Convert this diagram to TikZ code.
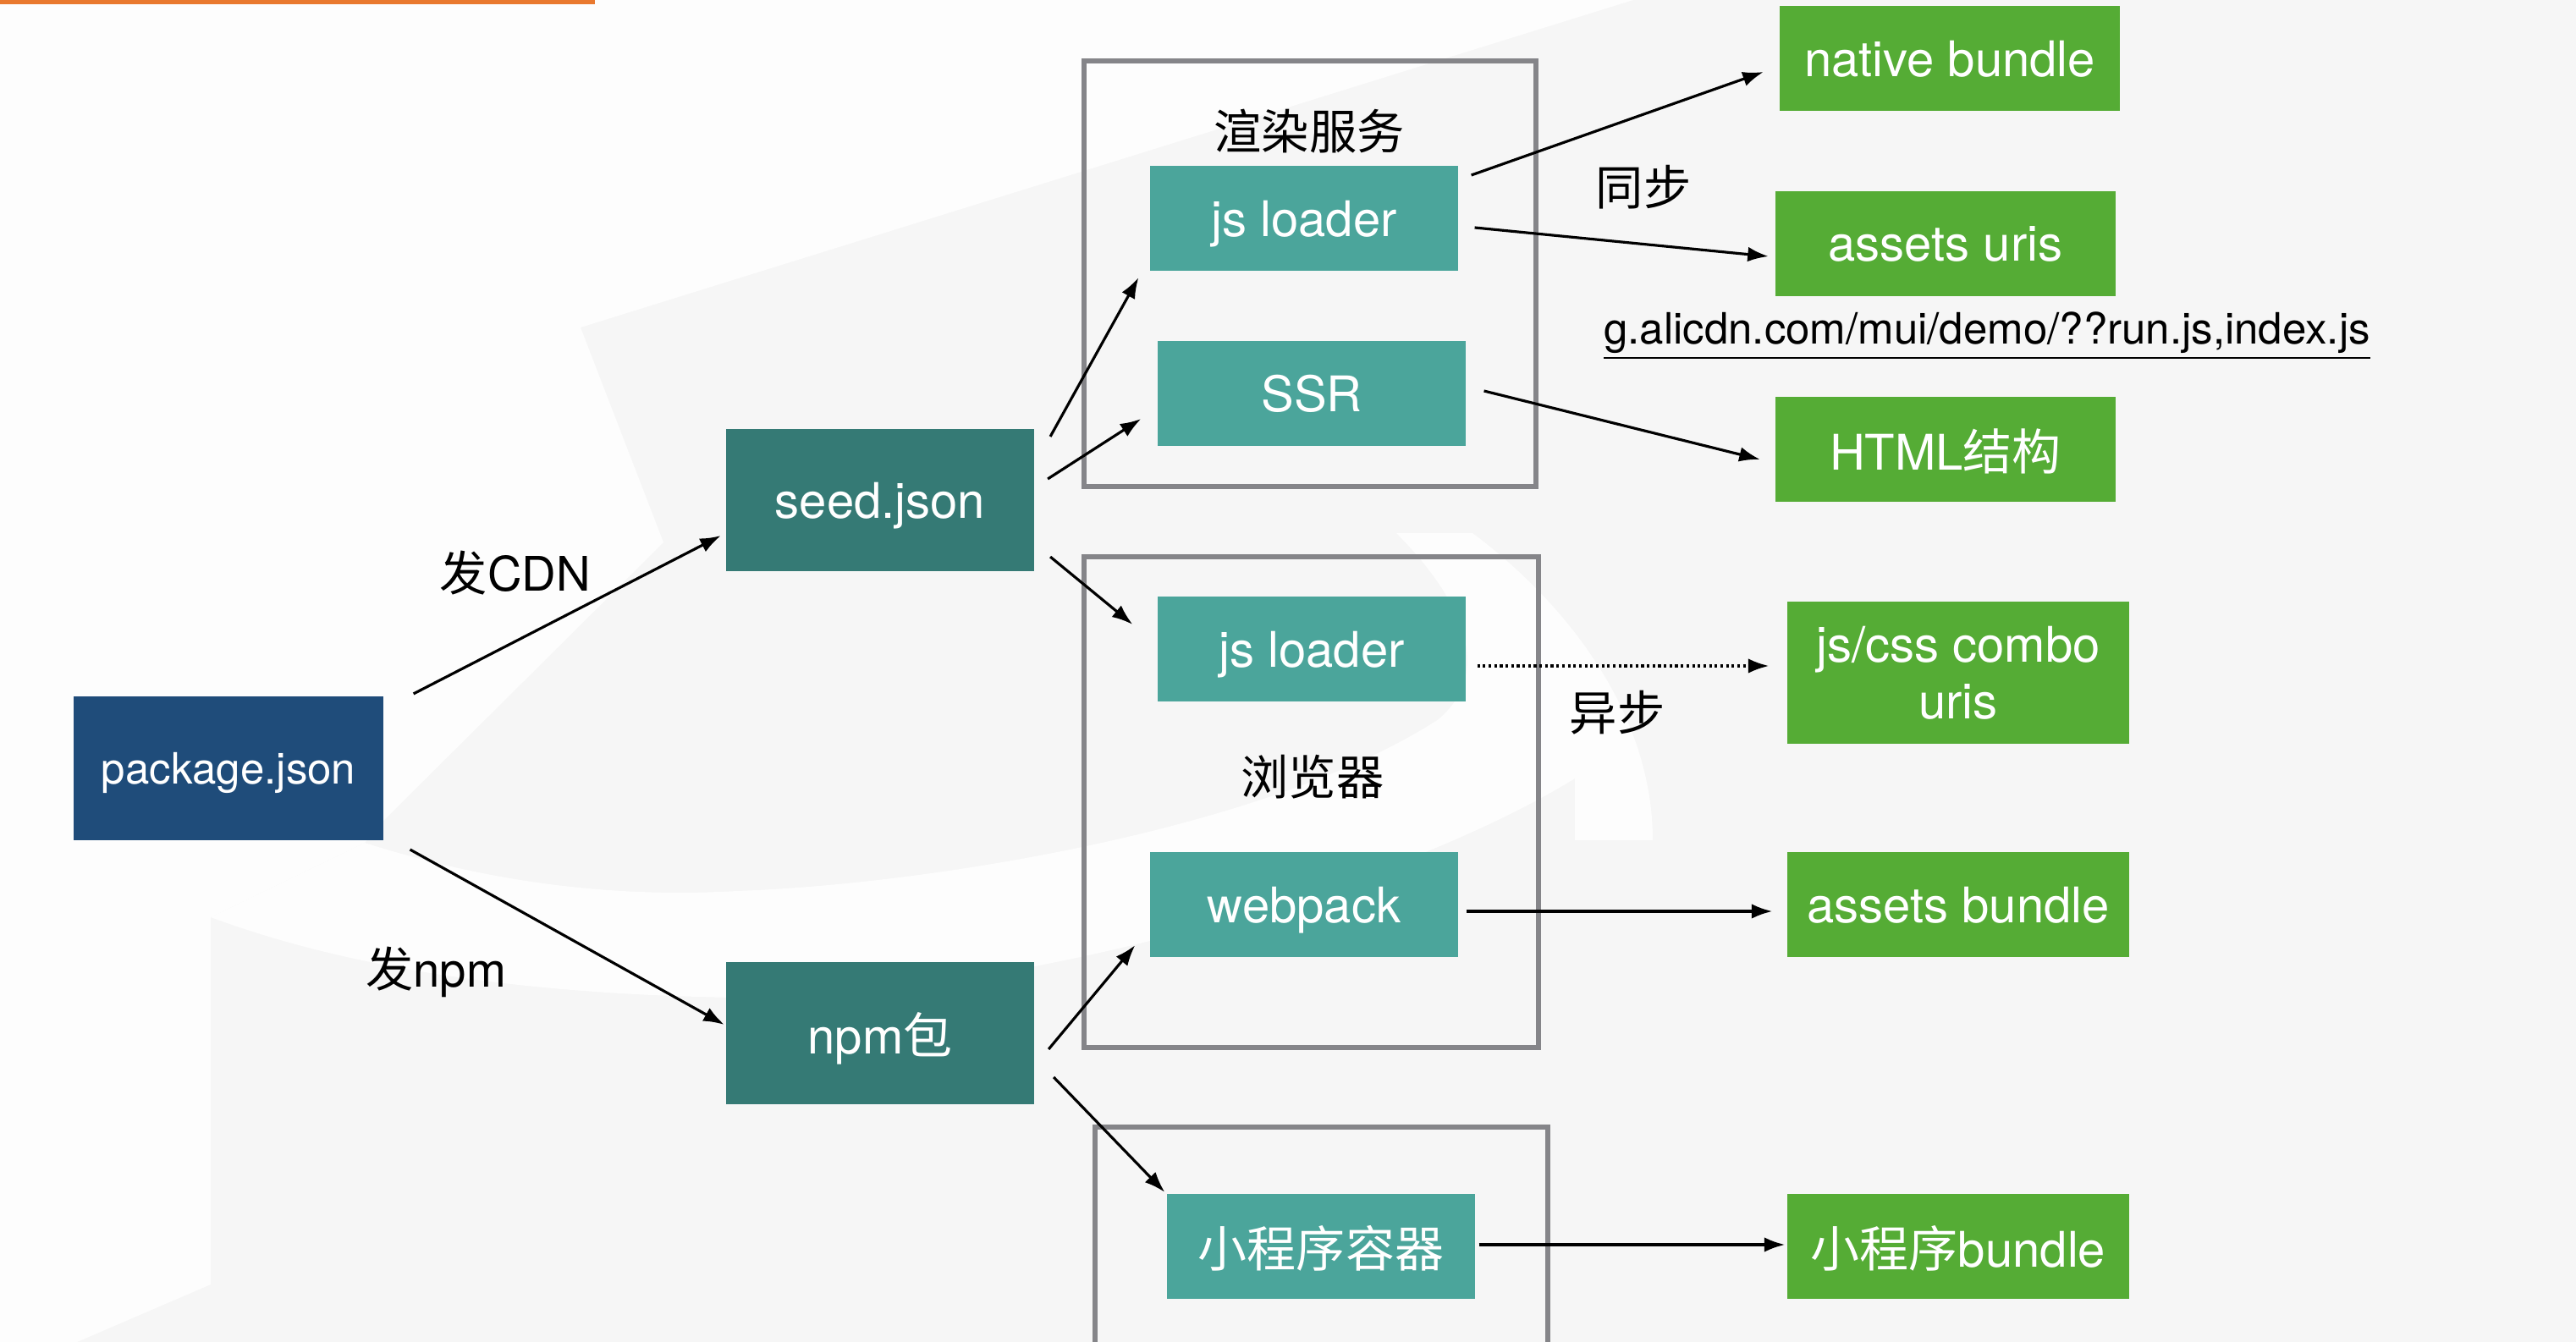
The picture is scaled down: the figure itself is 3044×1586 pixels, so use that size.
\documentclass[tikz,border=0pt]{standalone}
\usepackage{fontspec}
\setmainfont{TeX Gyre Heros}
\newfontfamily\cjk{Noto Sans CJK SC}
\definecolor{pkgblue}{HTML}{1F4C7A}
\definecolor{seedteal}{HTML}{357A75}
\definecolor{boxteal}{HTML}{4BA59B}
\definecolor{outgreen}{HTML}{55AC35}
\definecolor{framegrey}{HTML}{858589}
\definecolor{bggrey}{HTML}{F6F6F6}
\definecolor{bgwhite}{HTML}{FDFDFD}
\definecolor{topline}{HTML}{E9792F}
\usetikzlibrary{arrows.meta}
\usetikzlibrary{positioning}
\tikzstyle{base}=[inner sep=0pt, outer sep=0pt]
\tikzstyle{block}=[base, text=white, align=center, text depth=0pt, font=\fontsize{16.5}{19}\selectfont]
\tikzstyle{pkgbox}=[block, fill=pkgblue, minimum width=3.65cm, minimum height=1.70cm, font=\fontsize{14.5}{17}\selectfont]
\tikzstyle{srcbox}=[block, fill=seedteal, minimum width=3.64cm, minimum height=1.68cm]
\tikzstyle{envbox}=[block, fill=boxteal, minimum width=3.63cm, minimum height=1.24cm]
\tikzstyle{outbox}=[block, fill=outgreen, minimum width=4.02cm, minimum height=1.24cm]
\tikzstyle{lbl}=[base, text depth=0pt, font=\fontsize{16}{19}\selectfont]
\tikzstyle{frame}=[draw=framegrey, line width=1.6pt]
\tikzstyle{arr}=[-{Latex[length=7pt,width=5pt]}, line width=0.9pt]

\begin{document}
\begin{tikzpicture}[base, x=0.01cm, y=-0.01cm]
    \useasboundingbox (0,0) rectangle (3044,1586);
    % background and watermark
    \fill [bggrey] (0,0) rectangle (3044,1586);
    \fill [bgwhite] (0,0) -- (1930,0) -- (686,387) -- (784,641) -- (452,971) -- (431,996)
        -- (249,1084) -- (249,1518) -- (91,1586) -- (0,1586) -- cycle;
    \fill [bgwhite] (431,996) .. controls (600,1050) and (750,1060) .. (871,1053)
        .. controls (1100,1045) and (1500,980) .. (1700,850)
        .. controls (1770,790) and (1720,700) .. (1650,630) -- (1740,630)
        .. controls (1860,720) and (1953,850) .. (1953,993) -- (1861,993) -- (1861,920)
        .. controls (1650,1050) and (1200,1180) .. (871,1179)
        .. controls (600,1175) and (400,1140) .. (249,1084) -- cycle;
    \fill [topline] (0,0) rectangle (703,5);

    % frames
    \draw [frame] (1281,72) rectangle (1815,575);
    \draw [frame] (1281,658) rectangle (1818,1238);
    \draw [frame] (1294,1600) -- (1294,1332) -- (1829,1332) -- (1829,1600);

    % sources
    \node [pkgbox] (pkg) at (270,908) {package.json};
    \node [srcbox] (seed) at (1040,591) {seed.json};
    \node [srcbox] (npm) at (1040,1221) {npm{\cjk 包}};

    % environments
    \node [envbox] (jsl1) at (1541,258) {js loader};
    \node [envbox] (ssr) at (1550,465) {SSR};
    \node [envbox] (jsl2) at (1550,767) {js loader};
    \node [envbox] (wp) at (1541,1069) {webpack};
    \node [envbox] (xcx) at (1561,1473) {\cjk 小程序容器};

    % outputs
    \node [outbox] (native) at (2304,69) {native bundle};
    \node [outbox] (uris) at (2299,288) {assets uris};
    \node [outbox] (html) at (2299,531) {HTML{\cjk 结构}};
    \node [outbox, minimum width=4.03cm, minimum height=1.68cm] (combo) at (2314,795) {js/css combo\\uris};
    \node [outbox, minimum width=4.03cm] (abundle) at (2314,1069) {assets bundle};
    \node [outbox, minimum width=4.03cm] (xbundle) at (2314,1473) {{\cjk 小程序}bundle};

    % labels
    \node [lbl] (render) at (1547,153) {\cjk 渲染服务};
    \node [lbl] (browser) at (1551,916) {\cjk 浏览器};
    \node [lbl] (sync) at (1942,219) {\cjk 同步};
    \node [lbl] (async) at (1911,840) {\cjk 异步};
    \node [lbl] (cdn) at (609,675) {{\cjk 发}CDN};
    \node [lbl] (pubnpm) at (515,1143) {{\cjk 发}npm};
    \node [lbl, font=\fontsize{14.5}{17}\selectfont] (url) at (2348,388) {\underline{g.alicdn.com/mui/demo/??run.js,index.js}};

    % connectors
    \draw [arr] ([shift={(36,-3)}]pkg.north east) -- ([shift={(-6,42)}]seed.west);
    \draw [arr] ([shift={(32,11)}]pkg.south east) -- ([shift={(-2,-10)}]npm.west);
    \draw [arr] ([shift={(19,9)}]seed.north east) -- ([shift={(-14,8)}]jsl1.south west);
    \draw [arr] ([shift={(16,-25)}]seed.east) -- ([shift={(-20,30)}]ssr.west);
    \draw [arr] ([shift={(19,-17)}]seed.south east) -- ([shift={(-30,-29)}]jsl2.west);
    \draw [arr] ([shift={(17,19)}]npm.east) -- ([shift={(-18,-14)}]wp.south west);
    \draw [arr] ([shift={(23,-32)}]npm.south east) -- ([shift={(-3,-2)}]xcx.north west);
    \draw [arr] ([shift={(16,-51)}]jsl1.east) -- ([shift={(-19,16)}]native.west);
    \draw [arr] ([shift={(20,11)}]jsl1.east) -- ([shift={(-8,15)}]uris.west);
    \draw [arr] ([shift={(22,-3)}]ssr.east) -- ([shift={(-18,12)}]html.west);
    \draw [arr, densely dotted] ([shift={(14,20)}]jsl2.east) -- ([shift={(-22,-8)}]combo.west);
    \draw [arr] ([shift={(10,8)}]wp.east) -- ([shift={(-18,8)}]abundle.west);
    \draw [arr] ([shift={(5,-2)}]xcx.east) -- ([shift={(-3,-2)}]xbundle.west);
\end{tikzpicture}
\end{document}
